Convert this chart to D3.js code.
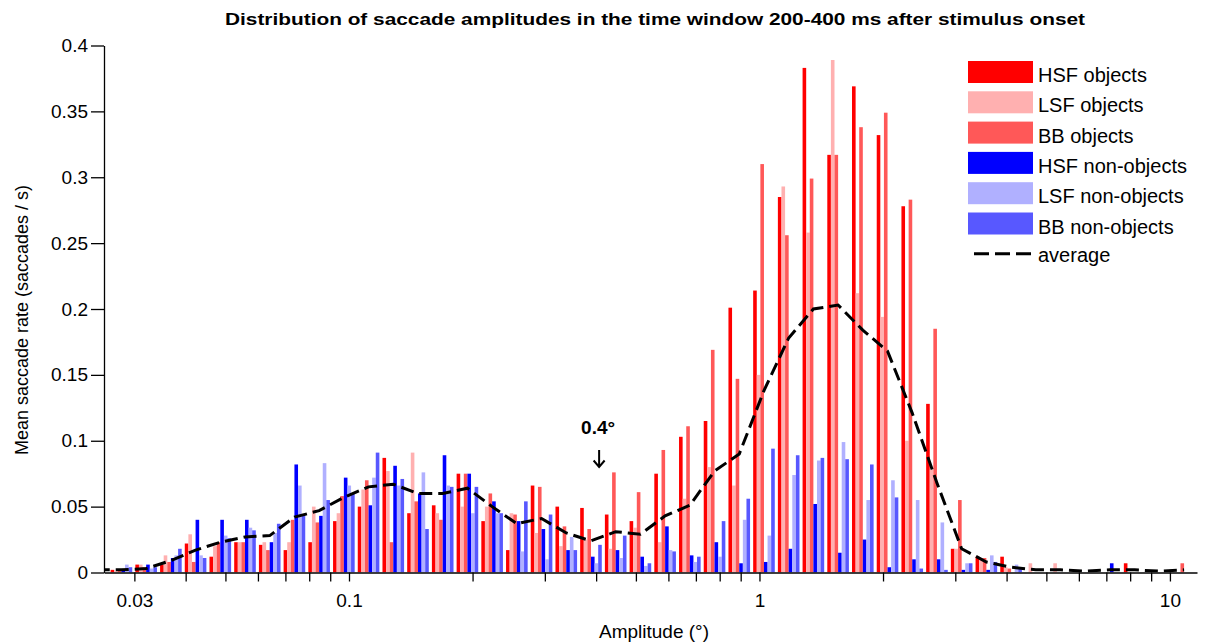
<!DOCTYPE html>
<html><head><meta charset="utf-8">
<script src="https://cdn.jsdelivr.net/npm/d3@7"></script>
<style>
body{margin:0;background:#fff;}
svg{display:block;font-family:"Liberation Sans",Arial,Helvetica,sans-serif;}
</style></head><body>
<svg id="chart" width="1210" height="643"></svg>
<script>
// Bin centres (degrees), one per group of six bars
const amplitudes = [0.02429,0.02790,0.03205,0.03682,0.04229,0.04858,0.05580,0.06410,0.07363,0.08458,
  0.09716,0.11160,0.12820,0.14726,0.16916,0.19432,0.22321,0.25640,0.29453,0.33833,
  0.38863,0.44642,0.51280,0.58906,0.67665,0.77726,0.89284,1.0256,1.1781,1.3532,
  1.5545,1.7856,2.0512,2.3562,2.7065,3.1089,3.5712,4.1024,4.7124,5.4130,
  6.2178,7.1424,8.2048,9.4248,10.826];
const hsfObjects = [0,0.002,0.006,0.006,0.022,0.012,0.023,0.021,0.017,0.023,
  0.039,0.050,0.087,0.045,0.051,0.075,0.039,0.017,0.066,0.050,
  0.049,0.044,0.039,0.075,0.103,0.115,0.201,0.214,0.285,0.383,
  0.317,0.369,0.332,0.278,0.128,0.018,0.012,0.012,0,0,
  0,0,0.007,0,0];
const lsfObjects = [0,0.001,0.006,0.013,0.029,0.020,0.023,0.023,0.023,0.050,
  0.045,0.063,0.077,0.091,0.045,0.050,0.050,0.045,0.030,0.020,
  0.025,0.018,0.034,0.023,0.056,0.080,0.066,0.150,0.293,0.258,
  0.389,0.212,0.194,0.100,0.078,0.018,0.011,0.004,0.007,0.007,
  0,0,0,0,0];
const bbObjects = [0,0.002,0.004,0.008,0.008,0.023,0.023,0.017,0.040,0.038,
  0.058,0.070,0.023,0.054,0.040,0.075,0.060,0.044,0.065,0.035,
  0.033,0.076,0.061,0.093,0.111,0.169,0.147,0.310,0.256,0.299,
  0.317,0.338,0.349,0.283,0.185,0.055,0.011,0.003,0,0,
  0,0,0,0,0.007];
const hsfNonObjects = [0,0.002,0.006,0.011,0.040,0.040,0.040,0.023,0.082,0.043,
  0.072,0.051,0.081,0.060,0.089,0.075,0.054,0.039,0.033,0.017,
  0.012,0.017,0.012,0.035,0.013,0.023,0.007,0.008,0.018,0.052,
  0.015,0.025,0.004,0.010,0.010,0.002,0.002,0,0,0,
  0,0.007,0,0,0];
const lsfNonObjects = [0,0.006,0.003,0.013,0.013,0.028,0.034,0.030,0.066,0.083,
  0.066,0.072,0.066,0.076,0.066,0.045,0.045,0.016,0.010,0.027,
  0.007,0.011,0.005,0.017,0.008,0.012,0.040,0.028,0.074,0.085,
  0.099,0.055,0.070,0.055,0.038,0.007,0.013,0.006,0,0,
  0,0,0,0,0];
const bbNonObjects = [0,0.004,0.004,0.018,0.011,0.026,0.032,0.037,0.044,0.055,
  0.060,0.091,0.071,0.033,0.065,0.065,0.045,0.054,0.044,0.017,
  0.021,0.028,0.007,0.016,0.012,0.039,0.056,0.094,0.089,0.087,
  0.086,0.082,0.057,0.003,0.002,0.007,0.008,0.003,0,0,
  0,0,0,0,0];
const average = [0.002,0.002,0.003,0.009,0.017,0.023,0.027,0.028,0.042,0.047,
  0.057,0.065,0.067,0.060,0.060,0.064,0.050,0.037,0.041,0.030,
  0.024,0.031,0.029,0.043,0.051,0.077,0.090,0.138,0.178,0.200,
  0.203,0.184,0.168,0.121,0.068,0.018,0.008,0.004,0.002,0.002,
  0.001,0.002,0.002,0.001,0.002];

const seriesNames = ["HSF objects","LSF objects","BB objects","HSF non-objects","LSF non-objects","BB non-objects"];
const seriesColors = ["#ff0000","#ffb0b0","#ff5858","#0000ff","#b0b0ff","#5858ff"];
const seriesValues = [hsfObjects,lsfObjects,bbObjects,hsfNonObjects,lsfNonObjects,bbNonObjects];

const xMajorTicks = [0.03,0.1,1,10];
const xMajorLabels = ["0.03","0.1","1","10"];
const xMinorTicks = [0.04,0.05,0.06,0.07,0.08,0.09,0.2,0.3,0.4,0.5,0.6,0.7,0.8,0.9,2,3,4,5,6,7,8,9];
const yTicks = [0,0.05,0.1,0.15,0.2,0.25,0.3,0.35,0.4];
const yTickLabels = ["0","0.05","0.1","0.15","0.2","0.25","0.3","0.35","0.4"];

const titleText = "Distribution of saccade amplitudes in the time window 200-400 ms after stimulus onset";
const xLabel = "Amplitude (°)";
const yLabel = "Mean saccade rate (saccades / s)";
const annotationText = "0.4°";
const annotationValue = 0.4;
const legendLineLabel = "average";

// ---- layout ----
const L = 104, R = 1197, T = 45.5, B = 572.5;
const svg = d3.select("#chart");
const x = d3.scaleLog().domain([0.0253, 11.64]).range([L, R]);
const y = d3.scaleLinear().domain([0, 0.4]).range([B, T]);

svg.append("defs").append("clipPath").attr("id","plotclip")
  .append("rect").attr("x",L).attr("y",0).attr("width",R-L).attr("height",B);

const logStep = Math.log10(amplitudes[1]/amplitudes[0]);
const groupFrac = 0.875;
const nS = seriesValues.length;

const plot = svg.append("g").attr("clip-path","url(#plotclip)");
seriesValues.forEach((vals, s) => {
  plot.append("g").selectAll("rect").data(amplitudes.map((a,i)=>({a, v: vals[i]})))
    .join("rect")
    .attr("x", d => {
      const c = Math.log10(d.a);
      const lo = c - groupFrac*logStep/2 + s*groupFrac*logStep/nS;
      return x(Math.pow(10, lo));
    })
    .attr("width", d => {
      const c = Math.log10(d.a);
      const lo = c - groupFrac*logStep/2 + s*groupFrac*logStep/nS;
      return x(Math.pow(10, lo + groupFrac*logStep/nS)) - x(Math.pow(10, lo));
    })
    .attr("y", d => y(d.v))
    .attr("height", d => B - y(d.v))
    .attr("fill", seriesColors[s]);
});

plot.append("path")
  .datum(amplitudes.map((a,i)=>[a, average[i]]))
  .attr("fill","none").attr("stroke","#000").attr("stroke-width",3)
  .attr("stroke-dasharray","13,6")
  .attr("d", d3.line().x(d=>x(d[0])).y(d=>y(d[1])));

// ---- axes ----
const xAxisMajor = d3.axisBottom(x).tickValues(xMajorTicks).tickFormat((d,i)=>xMajorLabels[i]).tickSize(9).tickSizeOuter(0).tickPadding(12);
const gx = svg.append("g").attr("transform",`translate(0,${B})`).call(xAxisMajor);
const xAxisMinor = d3.axisBottom(x).tickValues(xMinorTicks).tickFormat("").tickSize(9).tickSizeOuter(0);
const gx2 = svg.append("g").attr("transform",`translate(0,${B})`).call(xAxisMinor);
gx2.select(".domain").remove();
[gx,gx2].forEach(g=>{
  g.selectAll("line").attr("stroke","#000").attr("stroke-width",1.3);
  g.select(".domain").attr("stroke","#000").attr("stroke-width",1.3);
});
gx.selectAll("text").attr("font-size",19).attr("fill","#000").attr("font-family","Liberation Sans, Arial, sans-serif");

const yAxis = d3.axisLeft(y).tickValues(yTicks).tickFormat((d,i)=>yTickLabels[i]).tickSize(13).tickSizeOuter(0).tickPadding(3);
const gy = svg.append("g").attr("transform",`translate(${L},0)`).call(yAxis);
gy.selectAll("line").attr("stroke","#000").attr("stroke-width",1.3);
gy.select(".domain").attr("stroke","#000").attr("stroke-width",1.3);
gy.selectAll("text").attr("font-size",19).attr("fill","#000").attr("font-family","Liberation Sans, Arial, sans-serif");

// ---- titles ----
svg.append("text").attr("x",655).attr("y",25).attr("text-anchor","middle")
  .attr("font-weight","bold").attr("font-size",17)
  .attr("textLength",860).attr("lengthAdjust","spacingAndGlyphs")
  .text(titleText);
svg.append("text").attr("x",654).attr("y",638).attr("text-anchor","middle")
  .attr("font-size",19).text(xLabel);
svg.append("text").attr("transform","translate(28,320) rotate(-90)").attr("text-anchor","middle")
  .attr("font-size",18).text(yLabel);

// annotation
const ax = x(annotationValue);
svg.append("text").attr("x",ax+2).attr("y",434).attr("text-anchor","middle")
  .attr("font-weight","bold").attr("font-size",19).text(annotationText);
svg.append("path")
  .attr("d",`M${ax+3},450 L${ax+3},467 M${ax-2.5},460.5 L${ax+3},467 L${ax+8.5},460.5`)
  .attr("fill","none").attr("stroke","#000").attr("stroke-width",2);

// ---- legend ----
const lg = svg.append("g");
seriesNames.forEach((n,i)=>{
  const ty = 61 + i*30.3;
  lg.append("rect").attr("x",968).attr("y",ty).attr("width",65).attr("height",22).attr("fill",seriesColors[i]);
  lg.append("text").attr("x",1038).attr("y",ty+21).attr("font-size",20).text(n);
});
const ly = 61 + 6*30.3 + 11;
lg.append("line").attr("x1",974).attr("x2",1032).attr("y1",ly).attr("y2",ly)
  .attr("stroke","#000").attr("stroke-width",3).attr("stroke-dasharray","15,6");
lg.append("text").attr("x",1038).attr("y",ly+8).attr("font-size",20).text(legendLineLabel);
</script>
</body></html>
